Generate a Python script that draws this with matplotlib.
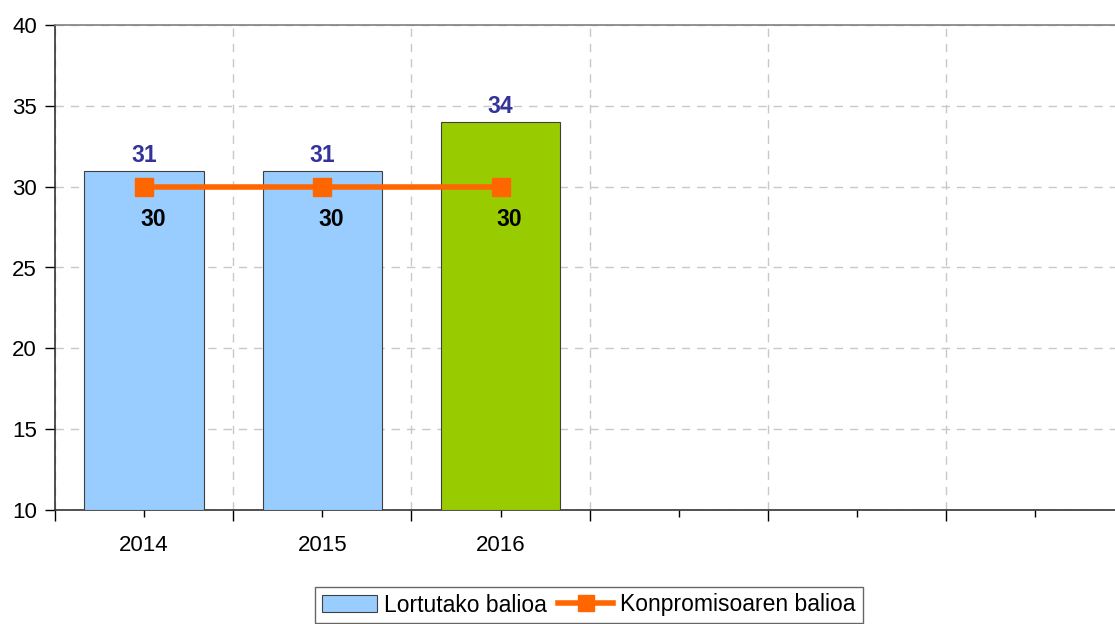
import matplotlib
matplotlib.use("Agg")
import matplotlib.pyplot as plt
from matplotlib.patches import Patch
from matplotlib.lines import Line2D
from matplotlib.ticker import MultipleLocator, FixedLocator

plt.rcParams['font.family'] = ['Liberation Sans', 'DejaVu Sans']

categories = ['2014', '2015', '2016', '', '', '']
achieved = [31, 31, 34]
commitment = [30, 30, 30]
bar_colors = ['#99CCFF', '#99CCFF', '#99CC00']

fig = plt.figure(figsize=(11.15, 6.24), dpi=100)
ax = fig.add_axes([55/1115, 114/624, 1069.5/1115, 485/624])

n = len(categories)
xs = list(range(len(achieved)))
ax.bar(xs, [v - 10 for v in achieved], bottom=10, width=0.67, color=bar_colors,
       edgecolor='#404040', linewidth=0.8, zorder=3)
ax.plot(xs, commitment, color='#FF6600', linewidth=4, marker='s', markersize=13,
        zorder=4)

for x, v in zip(xs, achieved):
    ax.annotate(str(v), (x, v), xytext=(0, 11), textcoords='offset points',
                ha='center', va='center', color='#333399', fontsize=16.5,
                fontweight='bold', zorder=5)
for x, v in zip(xs, commitment):
    ax.annotate(str(v), (x, v), xytext=(6.5, -23.5), textcoords='offset points',
                ha='center', va='center', color='black', fontsize=16.5,
                fontweight='bold', zorder=5)

ax.set_xlim(-0.5, n - 0.5)
ax.set_ylim(10, 40)
ax.yaxis.set_major_locator(MultipleLocator(5))

# x: major ticks at category boundaries, minor at centres with labels
ax.xaxis.set_major_locator(FixedLocator([i - 0.5 for i in range(n + 1)]))
ax.set_xticklabels([''] * (n + 1))
ax.set_xticks(list(range(n)), minor=True)
ax.set_xticklabels(categories, minor=True)
ax.tick_params(axis='x', which='major', length=8, width=1, color='black', direction='out')
ax.tick_params(axis='x', which='minor', length=5, width=1, color='black', direction='out',
               labelsize=16, pad=13)
ax.tick_params(axis='y', length=7, width=1, color='black', labelsize=16, pad=6)

ax.grid(True, axis='y', which='major', linestyle=(0, (6, 5)), color='#C8C8C8', linewidth=1, zorder=0)
ax.grid(True, axis='x', which='major', linestyle=(0, (6, 5)), color='#C8C8C8', linewidth=1, zorder=0)
ax.set_axisbelow(True)

for side in ['left', 'bottom']:
    ax.spines[side].set_color('#333333')
    ax.spines[side].set_linewidth(1.2)
ax.spines['top'].set_color('#808080')
ax.spines['top'].set_linewidth(1.2)
ax.spines['right'].set_visible(False)

handles = [Patch(facecolor='#99CCFF', edgecolor='#404040', linewidth=0.8),
           Line2D([0], [0], color='#FF6600', linewidth=4, marker='s', markersize=11)]
leg = fig.legend(handles, ['Lortutako balioa', 'Konpromisoaren balioa'], loc='center',
                 bbox_to_anchor=(589/1115, 1 - 605/624), ncol=2, frameon=True,
                 fancybox=False, edgecolor='#404040', fontsize=16.5,
                 handlelength=2.4, handletextpad=0.3, columnspacing=0.5,
                 borderpad=0.3, borderaxespad=0)
leg.get_frame().set_linewidth(1)

fig.savefig('out.png', dpi=100)
